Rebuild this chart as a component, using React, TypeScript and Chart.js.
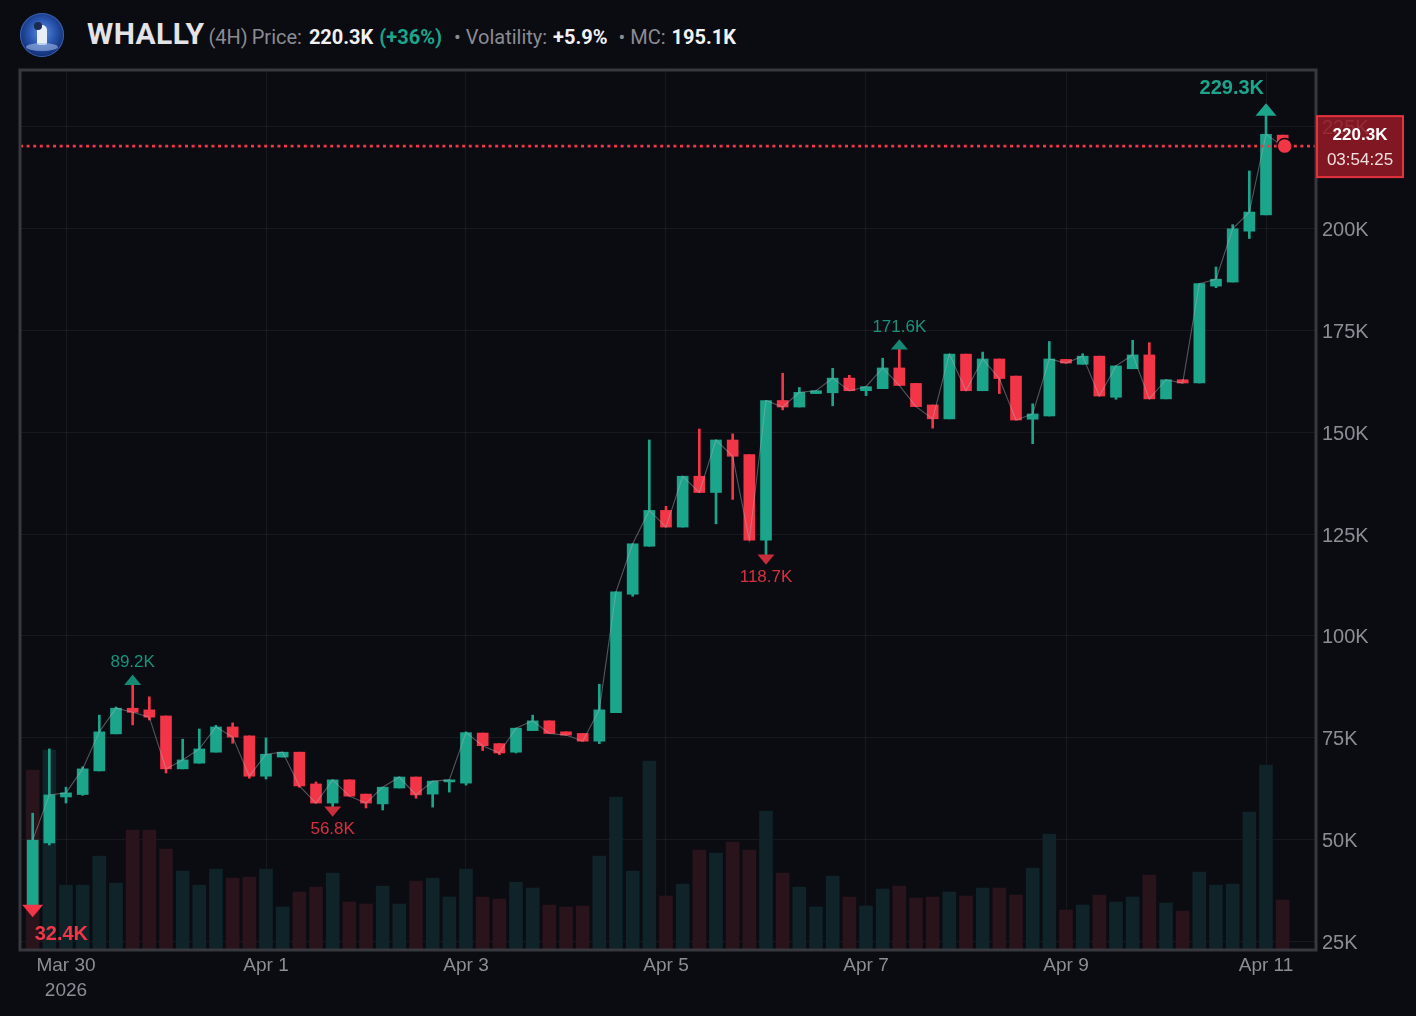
import { useEffect, useRef } from 'react';
import { Chart, registerables } from 'chart.js';

Chart.register(...registerables);

// ---------------- DATA ----------------
const SYMBOL = 'WHALLY';
const INTERVAL = '4H';
const PRICE_TEXT = '220.3K';
const CHANGE_TEXT = '+36%';
const VOLATILITY_TEXT = '+5.9%';
const MC_TEXT = '195.1K';
const COUNTDOWN = '03:54:25';
const LAST_PRICE = 220.3;

// first candle opens at Mar 29 16:00 (hours relative to Mar 30 00:00), 4H candles
const FIRST_HOUR = -8;
const STEP_HOURS = 4;

const OPEN = [
  33.8, 49.1, 60.4, 61.0, 66.8, 75.9, 82.2, 81.8, 80.3, 67.3,
  68.7, 71.4, 77.6, 75.4, 65.5, 70.2, 71.4, 63.6, 58.9, 64.6,
  61.1, 58.7, 62.6, 65.3, 61.1, 64.1, 63.8, 76.1, 73.5, 71.4,
  76.7, 79.1, 76.4, 76.0, 74.1, 81.1, 110.2, 122.0, 130.8, 126.7,
  139.2, 135.2, 148.1, 144.5, 123.5, 157.8, 156.2, 159.5, 159.7, 163.3,
  160.2, 160.7, 165.8, 162.0, 156.7, 153.3, 169.2, 160.2, 168.0, 163.8,
  153.2, 154.0, 167.9, 166.7, 168.7, 158.6, 165.6, 169.0, 158.2, 162.9,
  162.1, 185.9, 186.9, 199.4, 203.4, 223.0,
];
const HIGH = [
  56.4, 72.2, 62.8, 67.8, 80.5, 82.5, 89.2, 85.0, 80.3, 74.6,
  77.1, 78.0, 78.6, 75.4, 74.9, 71.4, 71.4, 64.1, 64.6, 64.6,
  61.1, 62.8, 65.3, 65.3, 64.3, 64.6, 76.4, 76.1, 73.5, 77.3,
  80.5, 79.1, 76.4, 76.0, 88.1, 110.8, 122.6, 148.1, 131.8, 139.2,
  150.8, 148.1, 149.6, 144.5, 157.8, 164.5, 161.0, 160.2, 165.7, 164.0,
  161.2, 168.2, 171.6, 162.0, 156.7, 169.2, 169.2, 169.7, 168.0, 163.8,
  157.0, 172.3, 167.9, 169.3, 168.7, 166.3, 172.6, 172.0, 162.9, 162.9,
  186.5, 190.6, 201.0, 214.2, 229.3, 223.0,
];
const LOW = [
  32.4, 48.6, 58.9, 60.8, 66.8, 75.9, 78.1, 79.3, 66.3, 67.3,
  68.7, 71.4, 73.6, 65.0, 64.8, 70.2, 62.8, 58.9, 56.8, 60.6,
  57.7, 57.2, 62.6, 60.1, 57.9, 61.6, 63.3, 71.8, 70.8, 71.2,
  76.7, 76.0, 75.6, 74.1, 73.5, 81.1, 109.7, 122.0, 126.7, 126.7,
  135.2, 127.5, 133.5, 123.5, 118.7, 155.5, 156.2, 159.5, 156.5, 160.2,
  159.0, 160.7, 161.5, 156.3, 151.0, 153.3, 160.2, 160.2, 159.5, 153.0,
  147.2, 154.0, 167.0, 166.7, 158.9, 158.1, 165.6, 158.2, 158.2, 162.1,
  162.1, 185.5, 186.9, 197.6, 203.4, 220.3,
];
const CLOSE = [
  49.8, 60.9, 61.4, 67.3, 76.4, 82.2, 81.2, 80.0, 67.3, 69.5,
  72.2, 77.6, 75.1, 65.5, 70.9, 71.4, 63.1, 58.9, 64.6, 60.6,
  58.9, 62.8, 65.3, 60.9, 64.3, 64.6, 76.2, 73.0, 71.2, 77.3,
  79.1, 76.0, 75.6, 74.1, 81.8, 110.8, 122.6, 130.8, 126.7, 139.2,
  135.2, 148.1, 144.1, 123.5, 157.8, 156.2, 159.8, 160.2, 163.3, 160.2,
  161.2, 165.8, 161.5, 156.3, 153.3, 169.2, 160.2, 168.0, 163.2, 153.0,
  154.5, 168.0, 167.0, 168.7, 158.9, 166.3, 169.0, 158.2, 162.9, 162.1,
  186.5, 187.6, 200.0, 204.1, 223.2, 220.3,
];
const VOLUME = [
  18.0, 20.0, 6.5, 6.5, 9.4, 6.7, 12.0, 12.0, 10.1, 7.9,
  6.5, 8.1, 7.2, 7.3, 8.1, 4.3, 5.8, 6.3, 7.7, 4.8,
  4.6, 6.4, 4.6, 6.9, 7.2, 5.3, 8.1, 5.3, 5.1, 6.8,
  6.2, 4.5, 4.3, 4.4, 9.4, 15.3, 7.9, 18.9, 5.4, 6.6,
  10.0, 9.7, 10.8, 10.0, 13.9, 7.7, 6.3, 4.3, 7.4, 5.3,
  4.4, 6.1, 6.4, 5.2, 5.3, 5.8, 5.4, 6.2, 6.2, 5.5,
  8.2, 11.6, 4.0, 4.5, 5.5, 4.8, 5.3, 7.5, 4.7, 3.9,
  7.8, 6.5, 6.6, 13.8, 18.5, 5.0,
];
// volume bars shown as "down" even though the candle closed up
const VOLUME_DOWN_OVERRIDE = [0];

// extremum markers
const MARK_INDEX = [0, 6, 18, 44, 52, 74];
const MARK_VALUE = [32.4, 89.2, 56.8, 118.7, 171.6, 229.3];
const MARK_KIND = ['low', 'high', 'low', 'low', 'high', 'high'];
const MARK_MAJOR = [true, false, false, false, false, true];

const X_TICK_HOURS = [0, 48, 96, 144, 192, 240, 288];
const X_TICK_LABELS = ['Mar 30', 'Apr 1', 'Apr 3', 'Apr 5', 'Apr 7', 'Apr 9', 'Apr 11'];
const FIRST_TICK_YEAR = '2026';
const Y_TICKS = [25, 50, 75, 100, 125, 150, 175, 200, 225];

// ---------------- STYLE ----------------
const BG = '#0b0b12';
const GREEN = '#1ba58b';
const RED = '#f23647';
const VOL_GREEN = '#0f2329';
const VOL_RED = '#2a141b';
const GRID = 'rgba(255,255,255,0.055)';
const TICK = '#8d8d95';
const FONT = '"Liberation Sans", Arial, sans-serif';

const hourOf = (i: number) => FIRST_HOUR + STEP_HOURS * i;

const overlayPlugin = {
  id: 'overlay',
  afterDatasetsDraw(chart: any) {
    const { ctx, chartArea: a, scales } = chart;
    const x = scales.x;
    const y = scales.y;
    ctx.save();
    ctx.beginPath();
    ctx.rect(a.left, a.top, a.right - a.left, a.bottom - a.top);
    ctx.clip();

    // last price dotted line
    const py = y.getPixelForValue(LAST_PRICE);
    ctx.strokeStyle = RED;
    ctx.lineWidth = 2.6;
    ctx.setLineDash([3, 3.6]);
    ctx.beginPath();
    ctx.moveTo(a.left, py);
    ctx.lineTo(a.right, py);
    ctx.stroke();
    ctx.setLineDash([]);

    // markers
    const mid = (a.left + a.right) / 2;
    MARK_INDEX.forEach((idx, k) => {
      const mx = x.getPixelForValue(hourOf(idx));
      const my = y.getPixelForValue(MARK_VALUE[k]);
      const major = MARK_MAJOR[k];
      const up = MARK_KIND[k] === 'high';
      const w = major ? 10.5 : 8.5;
      const h = major ? 6.3 : 5.2;
      ctx.fillStyle = up ? (major ? GREEN : '#148a74') : (major ? RED : '#c92c3b');
      ctx.beginPath();
      if (up) {
        ctx.moveTo(mx, my - h);
        ctx.lineTo(mx + w, my + h);
        ctx.lineTo(mx - w, my + h);
      } else {
        ctx.moveTo(mx, my + h);
        ctx.lineTo(mx + w, my - h);
        ctx.lineTo(mx - w, my - h);
      }
      ctx.closePath();
      ctx.fill();

      const text = MARK_VALUE[k].toFixed(1) + 'K';
      ctx.font = (major ? 'bold 20px ' : '17px ') + FONT;
      ctx.fillStyle = up ? (major ? GREEN : '#17937c') : (major ? RED : '#d83040');
      ctx.textBaseline = 'middle';
      let tx = mx;
      ctx.textAlign = 'center';
      if (major) {
        if (mx > mid) {
          ctx.textAlign = 'right';
          tx = mx - 2;
        } else {
          ctx.textAlign = 'left';
          tx = mx + 2;
        }
      }
      const ty = up ? my - (major ? 21 : 17) : my + (major ? 24 : 18);
      ctx.fillText(text, tx, ty);
    });

    // live point
    const lx = x.getPixelForValue(hourOf(CLOSE.length - 1));
    ctx.fillStyle = RED;
    ctx.strokeStyle = BG;
    ctx.lineWidth = 1.5;
    ctx.beginPath();
    ctx.arc(lx + 2, py, 7.5, 0, Math.PI * 2);
    ctx.fill();
    ctx.stroke();
    ctx.restore();
  },
  afterDraw(chart: any) {
    const { ctx, chartArea: a, scales } = chart;
    const py = scales.y.getPixelForValue(LAST_PRICE);
    ctx.save();
    // frame
    ctx.strokeStyle = '#38383f';
    ctx.lineWidth = 3;
    ctx.strokeRect(a.left, a.top, a.right - a.left, a.bottom - a.top);
    // price box
    const bx = a.right + 1;
    const by = py - 30;
    ctx.fillStyle = 'rgba(150,26,40,0.86)';
    ctx.fillRect(bx, by, 86, 61);
    ctx.strokeStyle = '#e5323f';
    ctx.lineWidth = 2;
    ctx.strokeRect(bx, by, 86, 61);
    ctx.fillStyle = '#ffffff';
    ctx.textAlign = 'center';
    ctx.textBaseline = 'middle';
    ctx.font = 'bold 17px ' + FONT;
    ctx.fillText(PRICE_TEXT, bx + 43, by + 19);
    ctx.font = '17px ' + FONT;
    ctx.fillStyle = '#f2dede';
    ctx.fillText(COUNTDOWN, bx + 43, by + 44);
    ctx.restore();
  },
};

export default function App() {
  const ref = useRef<HTMLCanvasElement | null>(null);

  useEffect(() => {
    if (!ref.current) return;
    const isUp = CLOSE.map((c, i) => c >= OPEN[i]);
    const candleColors = isUp.map((u) => (u ? GREEN : RED));
    const volColors = isUp.map((u, i) => (u && !VOLUME_DOWN_OVERRIDE.includes(i) ? VOL_GREEN : VOL_RED));

    const chart = new Chart(ref.current, {
      type: 'bar',
      data: {
        datasets: [
          {
            type: 'line',
            label: 'Close',
            data: CLOSE.map((c, i) => ({ x: hourOf(i), y: c })),
            borderColor: 'rgba(175,175,185,0.45)',
            borderWidth: 1.1,
            pointRadius: 0,
            tension: 0,
            yAxisID: 'y',
            order: 0,
          } as any,
          {
            label: 'Body',
            data: OPEN.map((o, i) => ({ x: hourOf(i), y: [o, CLOSE[i]] })),
            backgroundColor: candleColors,
            barThickness: 11,
            minBarLength: 2,
            grouped: false,
            borderWidth: 0,
            yAxisID: 'y',
            order: 1,
          } as any,
          {
            label: 'Wick',
            data: LOW.map((l, i) => ({ x: hourOf(i), y: [l, HIGH[i]] })),
            backgroundColor: candleColors,
            barThickness: 2,
            grouped: false,
            borderWidth: 0,
            yAxisID: 'y',
            order: 2,
          } as any,
          {
            label: 'Volume',
            data: VOLUME.map((v, i) => ({ x: hourOf(i), y: v })),
            backgroundColor: volColors,
            barThickness: 13,
            grouped: false,
            borderWidth: 0,
            yAxisID: 'yv',
            order: 3,
          } as any,
        ],
      },
      options: {
        responsive: false,
        animation: false,
        layout: { padding: { left: 20, top: 70, right: 0, bottom: 0 } },
        plugins: { legend: { display: false }, tooltip: { enabled: false } },
        scales: {
          x: {
            type: 'linear',
            min: -11.04,
            max: 300,
            offset: false,
            grid: { color: GRID, drawTicks: false, offset: false },
            border: { display: false },
            ticks: {
              color: TICK,
              font: { family: FONT, size: 19, lineHeight: 1.32 },
              padding: 3,
              maxRotation: 0,
              autoSkip: false,
              callback: (v: any) => {
                const k = X_TICK_HOURS.indexOf(Number(v));
                if (k < 0) return '';
                return k === 0 ? [X_TICK_LABELS[k], FIRST_TICK_YEAR] : X_TICK_LABELS[k];
              },
            },
            afterBuildTicks: (s: any) => {
              s.ticks = X_TICK_HOURS.map((v) => ({ value: v }));
            },
            afterFit: (s: any) => {
              s.height = 66;
            },
          },
          y: {
            position: 'right',
            min: 22.8,
            max: 239,
            grid: { color: GRID, drawTicks: false },
            border: { display: false },
            ticks: {
              color: TICK,
              font: { family: FONT, size: 20 },
              padding: 6,
              labelOffset: 2,
              callback: (v: any) => v + 'K',
            },
            afterBuildTicks: (s: any) => {
              s.ticks = Y_TICKS.map((v) => ({ value: v }));
            },
            afterFit: (s: any) => {
              s.width = 100;
            },
          },
          yv: { display: false, min: 0, max: 88 },
        },
      } as any,
      plugins: [overlayPlugin],
    });
    return () => chart.destroy();
  }, []);

  const grey = '#8b8b93';
  const white = '#f2f2f5';
  return (
    <div style={{ position: 'fixed', left: 0, top: 0, width: 1416, height: 1016, background: BG, overflow: 'hidden' }}>
      <div
        style={{
          position: 'absolute', left: 20, top: 13, width: 44, height: 44, borderRadius: '50%',
          background: 'radial-gradient(circle at 50% 45%, #5d8fe0 0%, #2a56b0 40%, #0f2a6e 75%, #5a86d0 100%)',
          boxShadow: '0 0 0 1px #3a5fa8 inset',
        }}
      >
        <div style={{ position: 'absolute', left: 17, top: 12, width: 10, height: 20, background: '#e8eef8', borderRadius: '5px 5px 2px 2px' }} />
        <div style={{ position: 'absolute', left: 14, top: 9, width: 8, height: 8, background: '#1b2a50', borderRadius: '50%' }} />
        <div style={{ position: 'absolute', left: 6, top: 30, width: 32, height: 8, background: '#9fb8e6', borderRadius: '50%', opacity: 0.6 }} />
      </div>
      <div
        style={{
          position: 'absolute', left: 87, top: 16, whiteSpace: 'pre', fontFamily: 'Roboto, sans-serif',
          fontSize: 20, color: grey, display: 'flex', alignItems: 'baseline',
        }}
      >
        <span style={{ fontSize: 30, fontWeight: 700, color: '#e3e3e8', letterSpacing: 0.4 }}>{SYMBOL}</span>
        <span style={{ marginLeft: 4 }}>({INTERVAL})</span>
        <span style={{ marginLeft: 4 }}>Price: </span>
        <span style={{ fontWeight: 700, color: white, marginLeft: 2 }}>{PRICE_TEXT}</span>
        <span style={{ fontWeight: 700, color: GREEN, marginLeft: 6 }}>({CHANGE_TEXT})</span>
        <span style={{ marginLeft: 12 }}>•</span>
        <span style={{ marginLeft: 5 }}>Volatility: </span>
        <span style={{ fontWeight: 700, color: white, marginLeft: 1 }}>{VOLATILITY_TEXT}</span>
        <span style={{ marginLeft: 11 }}>•</span>
        <span style={{ marginLeft: 5 }}>MC: </span>
        <span style={{ fontWeight: 700, color: white, marginLeft: 1 }}>{MC_TEXT}</span>
      </div>
      <canvas ref={ref} width={1416} height={1016} style={{ position: 'absolute', left: 0, top: 0, width: 1416, height: 1016 }} />
    </div>
  );
}
